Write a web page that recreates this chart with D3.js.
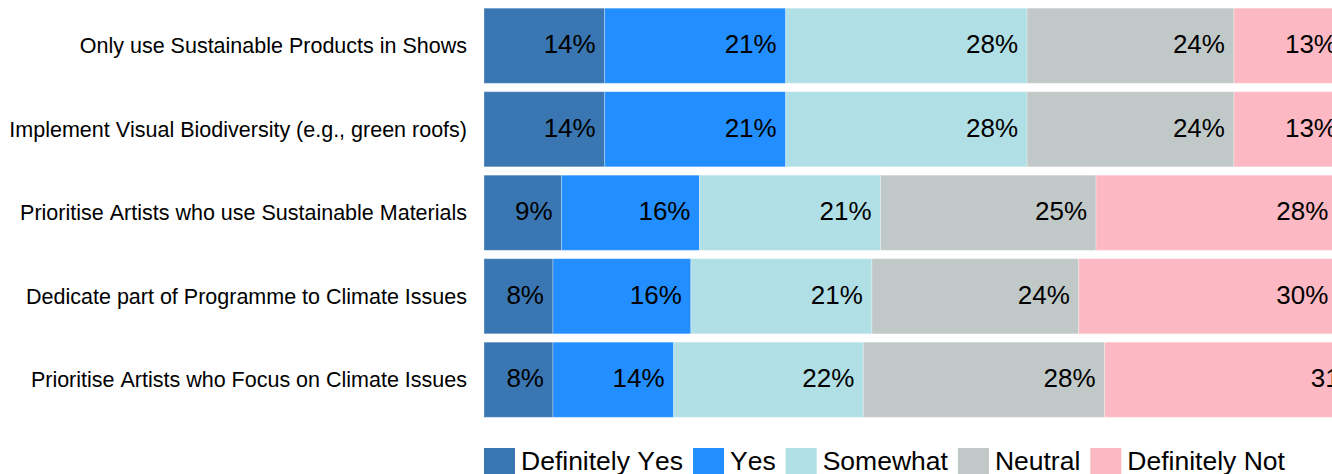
<!DOCTYPE html>
<html>
<head>
<meta charset="utf-8">
<script src="https://cdn.jsdelivr.net/npm/d3@7"></script>
<style>
  html, body { margin: 0; padding: 0; background: #fff; overflow: hidden; }
  svg { display: block; font-family: "Liberation Sans", Arial, sans-serif; font-kerning: none; }
  svg text { font-kerning: none; }
</style>
</head>
<body>
<svg id="chart" width="1332" height="474"></svg>
<script>
// Survey statements, top to bottom
const statements = [
  "Only use Sustainable Products in Shows",
  "Implement Visual Biodiversity (e.g., green roofs)",
  "Prioritise Artists who use Sustainable Materials",
  "Dedicate part of Programme to Climate Issues",
  "Prioritise Artists who Focus on Climate Issues"
];

// Response options (stack order, left to right)
const responses = ["Definitely Yes", "Yes", "Somewhat", "Neutral", "Definitely Not"];

// Share of respondents (%) per response, one array per response, in statement order
const definitelyYes = [14, 14, 9, 8, 8];
const yes           = [21, 21, 16, 16, 14];
const somewhat      = [28, 28, 21, 21, 22];
const neutral       = [24, 24, 25, 24, 28];
const definitelyNot = [13, 13, 28, 30, 31];

const colors = ["#3a76b1", "#228eff", "#b0dfe5", "#c1c9c8", "#fdb9c3"];

const seriesValues = [definitelyYes, yes, somewhat, neutral, definitelyNot];
const rows = statements.map((s, i) => {
  const r = { statement: s };
  responses.forEach((k, j) => { r[k] = seriesValues[j][i]; });
  return r;
});

const svg = d3.select("#chart");

const x = d3.scaleLinear().domain([0, 100]).range([484, 1346]);
const y = d3.scaleBand()
  .domain(statements)
  .range([4, 421.5])
  .paddingInner(0.1)
  .paddingOuter(0.05);
const color = d3.scaleOrdinal().domain(responses).range(colors);

const stacked = d3.stack().keys(responses)(rows);

const layers = svg.append("g")
  .selectAll("g")
  .data(stacked)
  .join("g")
  .attr("fill", d => color(d.key));

layers.selectAll("rect")
  .data(d => d.map(p => ({ p, key: d.key })))
  .join("rect")
  .attr("x", d => x(d.p[0]))
  .attr("y", d => y(d.p.data.statement))
  .attr("width", d => x(d.p[1]) - x(d.p[0]))
  .attr("height", y.bandwidth())
  .attr("stroke", "#ffffff")
  .attr("stroke-opacity", 0.3)
  .attr("stroke-width", 1);

// Value labels, right-aligned inside each segment
layers.selectAll("text")
  .data(d => d.map(p => ({ p, key: d.key })))
  .join("text")
  .attr("x", d => x(d.p[1]) - 9)
  .attr("y", d => y(d.p.data.statement) + y.bandwidth() / 2 - 1.5)
  .attr("text-anchor", "end")
  .attr("dominant-baseline", "central")
  .attr("font-size", 26)
  .attr("fill", "#000")
  .text(d => d.p.data[d.key] + "%");

// Category axis on the left, no line or ticks
const yAxis = svg.append("g")
  .attr("transform", "translate(467,0)")
  .call(d3.axisLeft(y).tickSize(0).tickPadding(0));
yAxis.select(".domain").remove();
yAxis.selectAll("text")
  .attr("font-size", 21.5)
  .attr("font-family", "Liberation Sans, Arial, sans-serif")
  .attr("fill", "#000")
  .attr("dy", "0.35em");

// Legend along the bottom
const legend = svg.append("g").attr("transform", "translate(484,448)");
let lx = 0;
responses.forEach(k => {
  const g = legend.append("g").attr("transform", `translate(${lx},0)`);
  g.append("rect").attr("width", 31).attr("height", 26).attr("fill", color(k));
  const t = g.append("text")
    .attr("x", 37)
    .attr("y", 13)
    .attr("dominant-baseline", "central")
    .attr("font-size", 26.5)
    .attr("fill", "#000")
    .text(k);
  lx += 37 + t.node().getComputedTextLength() + 10;
});
</script>
</body>
</html>
